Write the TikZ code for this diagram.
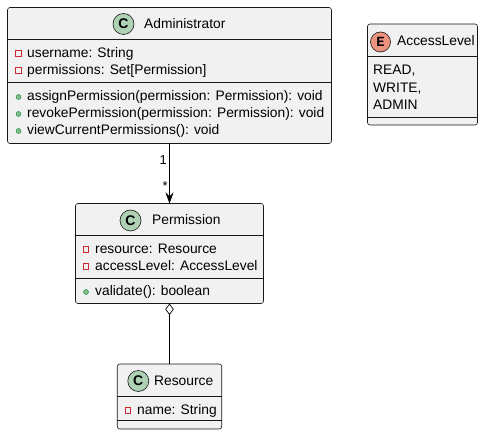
\documentclass[tikz,border=0pt]{standalone}
\usepackage{fontspec}
\setmainfont{Liberation Sans}
\newfontfamily\spotmono{Liberation Mono}
\usetikzlibrary{arrows.meta,positioning,calc}
\definecolor{classfill}{HTML}{F1F1F1}
\definecolor{classline}{HTML}{181818}
\definecolor{spotC}{HTML}{ADD1B2}
\definecolor{spotE}{HTML}{EB937F}
\definecolor{privred}{HTML}{C82930}
\definecolor{pubgreen}{HTML}{84BE84}
\definecolor{publine}{HTML}{038048}
\tikzset{
    classbox/.style={draw=classline,fill=classfill,rounded corners=2.5pt,line width=0.6pt,inner sep=0pt,outer sep=0pt},
    sepline/.style={draw=classline,line width=0.6pt},
    txt/.style={anchor=base west,inner sep=0pt,font=\fontsize{13.8}{16}\selectfont},
    spot/.style={circle,draw=classline,line width=0.6pt,minimum size=21pt,inner sep=0pt,font=\fontsize{14}{16}\selectfont\bfseries},
    priv/.style={draw=privred,line width=0.6pt,minimum size=5.5pt,inner sep=0pt},
    pub/.style={circle,draw=publine,fill=pubgreen,line width=0.4pt,minimum size=5pt,inner sep=0pt},
    arr/.style={-{Stealth[length=11pt,width=8pt,inset=4pt]},line width=0.7pt},
    aggr/.style={{Diamond[open,length=11.5pt,width=8.5pt]}-,line width=0.7pt},
    mult/.style={inner sep=0pt,font=\fontsize{13}{15}\selectfont},
}

\begin{document}
\begin{tikzpicture}[x=1pt,y=-1pt]
        \useasboundingbox (0,0) rectangle (483,435);
        % class boxes
        \node[classbox,minimum width=324pt,minimum height=136pt] (admin) at (169.5,75.5) {};
        \node[classbox,minimum width=188pt,minimum height=100pt] (perm) at (169.5,253.5) {};
        \node[classbox,minimum width=104.5pt,minimum height=65pt] (res) at (169.5,396.5) {};
        \node[classbox,minimum width=110pt,minimum height=101pt] (level) at (422.5,74.5) {};

        % Administrator
        \draw[sepline] (7.5,39) -- (331.5,39);
        \draw[sepline] (7.5,82.3) -- (331.5,82.3);
        \node[spot,fill=spotC] (admin-spot) at (123.5,24) {C};
        \node[txt] (admin-name) at (144,29) {Administrator};
        \node[priv] (admin-i1) at (18.5,53.5) {};
        \node[txt] (admin-a1) at (27,58) {username: String};
        \node[priv] (admin-i2) at (18.5,70.5) {};
        \node[txt] (admin-a2) at (27,75) {permissions: Set[Permission]};
        \node[pub] (admin-i3) at (18.5,97) {};
        \node[txt] (admin-m1) at (27,101) {assignPermission(permission: Permission): void};
        \node[pub] (admin-i4) at (18.5,114) {};
        \node[txt] (admin-m2) at (27,118) {revokePermission(permission: Permission): void};
        \node[pub] (admin-i5) at (18.5,131) {};
        \node[txt] (admin-m3) at (27,135) {viewCurrentPermissions(): void};

        % AccessLevel
        \draw[sepline] (367.5,56) -- (477.5,56);
        \draw[sepline] (367.5,117.3) -- (477.5,117.3);
        \node[spot,fill=spotE,minimum size=20pt,font=\fontsize{14}{16}\spotmono\bfseries] (level-spot) at (380.5,42) {E};
        \node[txt] (level-name) at (397,46) {AccessLevel};
        \node[txt] (level-v1) at (373,75) {READ,};
        \node[txt] (level-v2) at (373,92.5) {WRITE,};
        \node[txt] (level-v3) at (373,110) {ADMIN};

        % Permission
        \draw[sepline] (75.5,235) -- (263.5,235);
        \draw[sepline] (75.5,278.3) -- (263.5,278.3);
        \node[spot,fill=spotC] (perm-spot) at (130.5,220.5) {C};
        \node[txt] (perm-name) at (152,225) {Permission};
        \node[priv] (perm-i1) at (86,249.5) {};
        \node[txt] (perm-a1) at (95,254) {resource: Resource};
        \node[priv] (perm-i2) at (86,266.5) {};
        \node[txt] (perm-a2) at (95,271) {accessLevel: AccessLevel};
        \node[pub] (perm-i3) at (86,292) {};
        \node[txt] (perm-m1) at (95,296) {validate(): boolean};

        % Resource
        \draw[sepline] (117.3,396.7) -- (221.7,396.7);
        \draw[sepline] (117.3,420.7) -- (221.7,420.7);
        \node[spot,fill=spotC] (res-spot) at (138.3,381) {C};
        \node[txt] (res-name) at (154,386) {Resource};
        \node[priv] (res-i1) at (128,410.5) {};
        \node[txt] (res-a1) at (137,415) {name: String};

        % relations
        \draw[arr] (admin.south) -- (perm.north);
        \node[mult,anchor=base east] (one) at (167,165) {1};
        \node[mult,anchor=base east] (many) at (168,191) {*};
        \draw[aggr] (perm.south) -- (res.north);
    \end{tikzpicture}
\end{document}
